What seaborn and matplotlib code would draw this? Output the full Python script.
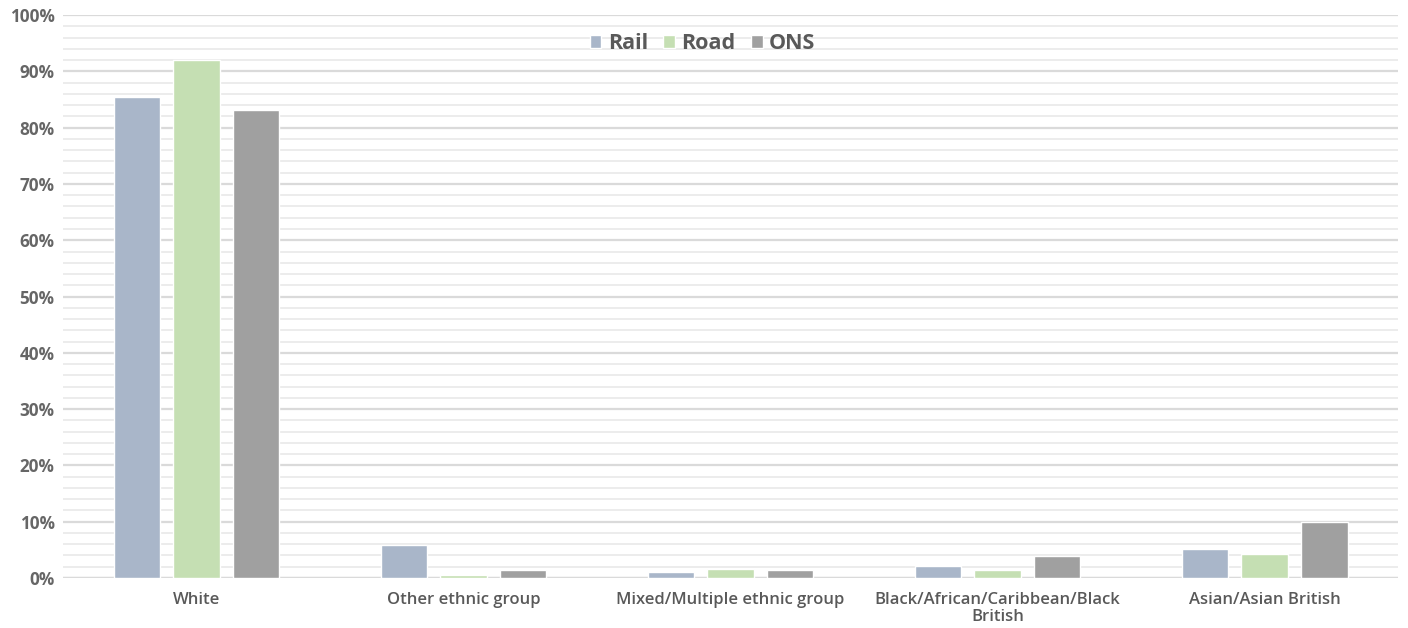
import matplotlib
matplotlib.use("Agg")
import matplotlib.pyplot as plt
import seaborn as sns
import pandas as pd
from matplotlib.ticker import MultipleLocator, FuncFormatter

categories = ["White", "Other ethnic group", "Mixed/Multiple ethnic group",
              "Black/African/Caribbean/Black\nBritish", "Asian/Asian British"]
series = ["Rail", "Road", "ONS"]
rail = [85.5, 5.8, 1.1, 2.1, 5.1]
road = [92.1, 0.5, 1.6, 1.5, 4.3]
ons = [83.1, 1.5, 1.5, 3.9, 9.9]
colors = ["#A9B6C9", "#C5DFB3", "#A0A0A0"]

df = pd.DataFrame({
    "category": categories * 3,
    "series": [s for s in series for _ in categories],
    "value": rail + road + ons,
})

sns.set_theme(style="white")
plt.rcParams["font.family"] = ["Open Sans", "DejaVu Sans"]

fig = plt.figure(figsize=(14.08, 6.28), dpi=100)
ax = fig.add_axes([0.0447, 0.0796, 0.9483, 0.8964])

sns.barplot(data=df, x="category", y="value", hue="series", order=categories,
            hue_order=series, palette=colors, width=0.67, gap=0.22,
            saturation=1, ax=ax, legend=True)

ax.set_ylim(0, 100)
ax.set_xlim(-0.5, len(categories) - 0.5)
ax.yaxis.set_major_locator(MultipleLocator(10))
ax.yaxis.set_minor_locator(MultipleLocator(2))
ax.yaxis.set_major_formatter(FuncFormatter(lambda v, p: f"{v:.0f}%"))
ax.grid(which="minor", axis="y", color="#EBEBEB", linewidth=1.3)
ax.grid(which="major", axis="y", color="#DADADA", linewidth=1.6)
ax.set_axisbelow(True)
for s in ax.spines.values():
    s.set_visible(False)
ax.axhline(0, color="#D0D0D0", linewidth=1.6, zorder=0.5)

ax.set_xlabel("")
ax.set_ylabel("")
ax.tick_params(axis="y", which="both", length=0, pad=6, labelsize=12.3,
               labelcolor="#666666")
ax.tick_params(axis="x", length=0, pad=10, labelsize=12, labelcolor="#595959")
for lbl in ax.get_yticklabels():
    lbl.set_fontweight("bold")
for lbl in ax.get_xticklabels():
    lbl.set_fontweight("semibold")
    lbl.set_linespacing(1.1)

leg = ax.legend(loc="upper center", bbox_to_anchor=(0.479, 1.003), ncol=3,
                frameon=False, handlelength=0.55, handleheight=0.55,
                handletextpad=0.3, columnspacing=0.7,
                prop={"size": 15.5, "weight": "bold"})
for t in leg.get_texts():
    t.set_color("#595959")

fig.savefig("out.png", dpi=100, facecolor="white")
